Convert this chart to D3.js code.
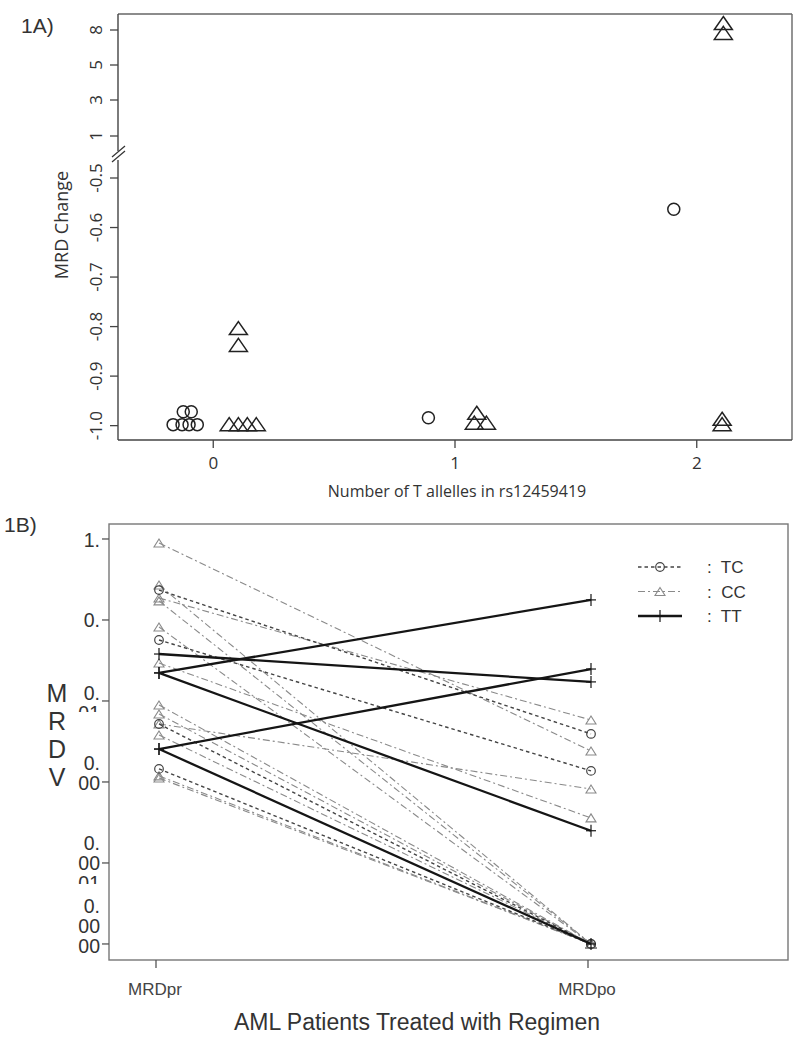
<!DOCTYPE html>
<html><head><meta charset="utf-8">
<script src="https://cdn.jsdelivr.net/npm/d3@7"></script>
<style>body{margin:0;background:#fff}svg{display:block}</style>
</head><body>
<svg id="c" width="800" height="1040"></svg>
<script>
// ---------- Panel 1A data ----------
const topXTicks = [0, 1, 2];
const topYTicks = [-1.0, -0.9, -0.8, -0.7, -0.6, -0.5, 1, 3, 5, 8];
const topYTickLabels = ["-1.0", "-0.9", "-0.8", "-0.7", "-0.6", "-0.5", "1", "3", "5", "8"];
const tcX = [-0.166, -0.129, -0.100, -0.066, -0.124, -0.091, 0.89, 1.905];
const tcY = [-0.998, -0.998, -0.998, -0.998, -0.972, -0.972, -0.984, -0.563];
const ccX = [0.066, 0.104, 0.141, 0.178, 0.104, 0.104, 1.09, 1.08, 1.13, 2.11, 2.11, 2.105, 2.105];
const ccY = [-0.997, -0.997, -0.997, -0.997, -0.803, -0.837, -0.974, -0.994, -0.994, 8.6, 7.75, -0.986, -0.997];

// ---------- Panel 1B data ----------
const timepoints = ["MRDpr", "MRDpo"];
const genotype = ["TC","TC","TC","TC",
  "CC","CC","CC","CC","CC","CC","CC","CC","CC","CC","CC","CC",
  "TT","TT","TT","TT","TT"];
const mrdPre = [0.234, 0.0566, 0.0052, 0.00145,
  0.893, 0.187, 0.0294, 0.0052, 0.270, 0.172, 0.082, 0.00893, 0.00691, 0.0038, 0.00119, 0.00112,
  0.038, 0.0222, 0.0222, 0.00255, 0.00255];
const mrdPost = [0.00392, 0.00137, 0.00001, 0.00001,
  0.00241, 0.00582, 0.00036, 0.00082, 0.00001, 0.00001, 0.00001, 0.00001, 0.00001, 0.00001, 0.00001, 0.00001,
  0.0172, 0.177, 0.00025, 0.0248, 0.00001];
const bYTicks = [1, 0.1, 0.01, 0.001, 0.0001, 0.00001];
const bYTickLines = [["1."], ["0."], ["0.", "01"], ["0.", "00"], ["0.", "00", "01"], ["0.", "00", "00"]];
const legendKeys = ["TC", "CC", "TT"];

const svg = d3.select("#c");

// ================= Panel 1A =================
const A = {l: 118, r: 792, t: 14, b: 440};
const xA = d3.scaleLinear().domain([-0.394, 2.394]).range([A.l, A.r]);
const yA = d3.scaleLinear().domain([-1.029, -0.5, 1, 3, 5, 8]).range([A.b, 178, 136, 100, 65, 30]);
const fA = "'Open Sans', 'Noto Sans', sans-serif";
const axCol = "#444";

svg.append("text").attr("x", 21).attr("y", 33).attr("font-family", "'Liberation Sans', Arial, sans-serif")
  .attr("font-size", 21).attr("fill", "#333").text("1A)");

const gA = svg.append("g");
gA.append("line").attr("x1", A.l).attr("x2", A.r).attr("y1", A.t).attr("y2", A.t).attr("stroke", "#666").attr("stroke-width", 1.4);
gA.append("line").attr("x1", A.r).attr("x2", A.r).attr("y1", A.t).attr("y2", A.b).attr("stroke", "#666").attr("stroke-width", 1.4);
gA.append("line").attr("x1", A.l).attr("x2", A.r).attr("y1", A.b).attr("y2", A.b).attr("stroke", "#444").attr("stroke-width", 1.6);
gA.append("line").attr("x1", A.l).attr("x2", A.l).attr("y1", A.t).attr("y2", 151).attr("stroke", "#444").attr("stroke-width", 1.4);
gA.append("line").attr("x1", A.l).attr("x2", A.l).attr("y1", 160).attr("y2", A.b).attr("stroke", "#444").attr("stroke-width", 1.4);
[0, 5].forEach(o => {
  gA.append("line").attr("x1", 112).attr("y1", 157 + o).attr("x2", 125).attr("y2", 146 + o)
    .attr("stroke", "#333").attr("stroke-width", 1.2);
});

topYTicks.forEach((v, i) => {
  const y = yA(v);
  gA.append("line").attr("x1", A.l - 8).attr("x2", A.l).attr("y1", y).attr("y2", y).attr("stroke", axCol).attr("stroke-width", 1.3);
  gA.append("text").attr("transform", `translate(${A.l - 16},${y}) rotate(-90)`)
    .attr("text-anchor", "middle").attr("font-family", fA).attr("font-size", 17).attr("fill", "#333")
    .text(topYTickLabels[i]);
});
topXTicks.forEach(v => {
  const x = xA(v);
  gA.append("line").attr("x1", x).attr("x2", x).attr("y1", A.b).attr("y2", A.b + 8).attr("stroke", axCol).attr("stroke-width", 1.3);
  gA.append("text").attr("x", x).attr("y", A.b + 29).attr("text-anchor", "middle")
    .attr("font-family", fA).attr("font-size", 17).attr("fill", "#333").text(v);
});
gA.append("text").attr("transform", `translate(68,225) rotate(-90)`).attr("text-anchor", "middle")
  .attr("font-family", fA).attr("font-size", 18).attr("fill", "#333").text("MRD Change");
gA.append("text").attr("x", 457).attr("y", 497).attr("text-anchor", "middle")
  .attr("font-family", fA).attr("font-size", 16).attr("fill", "#333").text("Number of T allelles in rs12459419");

tcX.forEach((x, i) => {
  gA.append("circle").attr("cx", xA(x)).attr("cy", yA(tcY[i])).attr("r", 6)
    .attr("fill", "none").attr("stroke", "#222").attr("stroke-width", 1.5);
});
function triPath(cx, cy, w, h) {
  return `M${cx},${cy - h / 2}L${cx + w / 2},${cy + h / 2}L${cx - w / 2},${cy + h / 2}Z`;
}
ccX.forEach((x, i) => {
  gA.append("path").attr("d", triPath(xA(x), yA(ccY[i]), 18, 13))
    .attr("fill", "none").attr("stroke", "#222").attr("stroke-width", 1.5);
});

// ================= Panel 1B =================
const B = {l: 109, r: 788, t: 524, b: 960};
const xB = d3.scalePoint().domain(timepoints).range([159, 591]);
const yB = d3.scaleLog().domain([Math.pow(10, -5.198), Math.pow(10, 0.185)]).range([B.b, B.t]);
const fB = "'Liberation Sans', Arial, sans-serif";
const styles = {
  TC: {dash: "3.5,3", color: "#444", width: 1.4},
  CC: {dash: "7,3,2,3", color: "#8a8a8a", width: 1.1},
  TT: {dash: null, color: "#151515", width: 2.3}
};

svg.append("text").attr("x", 4).attr("y", 532).attr("font-family", fB)
  .attr("font-size", 21).attr("fill", "#333").text("1B)");

const gB = svg.append("g");
gB.append("rect").attr("x", B.l).attr("y", B.t).attr("width", B.r - B.l).attr("height", B.b - B.t)
  .attr("fill", "none").attr("stroke", "#777").attr("stroke-width", 1.4);

const defs = svg.append("defs");
const firstLineY = [540, 620, 693, 763, 843, 906];
const clipBottom = [552, 632, 712, 792, 884, 956];
const lineGap = 20;
bYTicks.forEach((v, i) => {
  const y = yB(v);
  gB.append("line").attr("x1", B.l - 7).attr("x2", B.l).attr("y1", y).attr("y2", y).attr("stroke", "#555").attr("stroke-width", 1.3);
  const cid = "cl" + i;
  defs.append("clipPath").attr("id", cid).append("rect")
    .attr("x", 60).attr("y", firstLineY[i] - 14).attr("width", 45).attr("height", clipBottom[i] - firstLineY[i] + 14);
  const t = gB.append("text").attr("clip-path", `url(#${cid})`).attr("font-family", fB)
    .attr("font-size", 19.5).attr("fill", "#333").attr("text-anchor", "end");
  bYTickLines[i].forEach((s, j) => {
    t.append("tspan").attr("x", 100).attr("y", firstLineY[i] + 7 + j * lineGap).text(s);
  });
});
["M", "R", "D", "V"].forEach((c, i) => {
  gB.append("text").attr("x", 57).attr("y", 702 + i * 28).attr("text-anchor", "middle")
    .attr("font-family", fB).attr("font-size", 25).attr("fill", "#333").text(c);
});
timepoints.forEach(tp => {
  const x = xB(tp);
  gB.append("line").attr("x1", x - 3).attr("x2", x - 3).attr("y1", B.b).attr("y2", B.b + 8).attr("stroke", "#555").attr("stroke-width", 1.3);
  gB.append("text").attr("x", x - 4).attr("y", 995).attr("text-anchor", "middle")
    .attr("font-family", fB).attr("font-size", 17).attr("fill", "#444").text(tp);
});
gB.append("text").attr("x", 417).attr("y", 1030).attr("text-anchor", "middle")
  .attr("font-family", fB).attr("font-size", 23).attr("fill", "#333").text("AML Patients Treated with Regimen");

function marker(g, type, x, y, st) {
  if (type === "TC") {
    g.append("circle").attr("cx", x).attr("cy", y).attr("r", 4.3).attr("fill", "none")
      .attr("stroke", st.color).attr("stroke-width", 1.2);
  } else if (type === "CC") {
    g.append("path").attr("d", triPath(x, y, 10, 8)).attr("fill", "none")
      .attr("stroke", st.color).attr("stroke-width", 1.1);
  } else {
    g.append("line").attr("x1", x).attr("x2", x).attr("y1", y - 6).attr("y2", y + 6)
      .attr("stroke", st.color).attr("stroke-width", 1.2);
    g.append("line").attr("x1", x - 5).attr("x2", x + 5).attr("y1", y).attr("y2", y)
      .attr("stroke", st.color).attr("stroke-width", 1.2);
  }
}
const order = ["CC", "TC", "TT"];
order.forEach(gt => {
  genotype.forEach((g, i) => {
    if (g !== gt) return;
    const st = styles[g];
    const pts = [[xB("MRDpr"), yB(mrdPre[i])], [xB("MRDpo"), yB(mrdPost[i])]];
    gB.append("path").attr("d", d3.line()(pts)).attr("fill", "none")
      .attr("stroke", st.color).attr("stroke-width", st.width)
      .attr("stroke-dasharray", st.dash);
    pts.forEach(p => marker(gB, g, p[0], p[1], st));
  });
});

legendKeys.forEach((k, i) => {
  const st = styles[k];
  const y = 567 + i * 24.5;
  gB.append("line").attr("x1", 638).attr("x2", 682).attr("y1", y).attr("y2", y)
    .attr("stroke", st.color).attr("stroke-width", st.width).attr("stroke-dasharray", st.dash);
  marker(gB, k, 660, y, st);
  gB.append("text").attr("x", 707).attr("y", y + 6).attr("font-family", fB).attr("font-size", 17)
    .attr("fill", "#333").text(":  " + k).style("white-space", "pre");
});
</script>
</body></html>
